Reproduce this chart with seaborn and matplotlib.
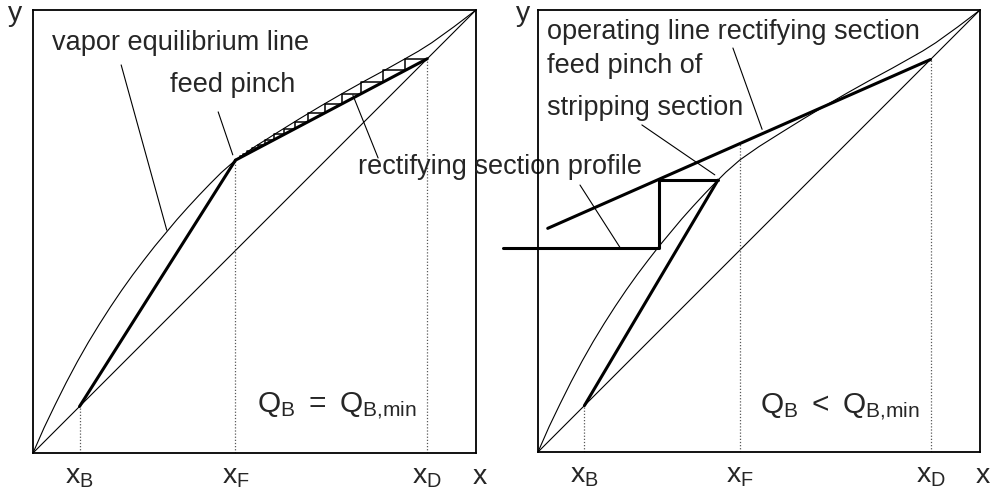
import numpy as np
import pandas as pd
import matplotlib
matplotlib.use("Agg")
import matplotlib.pyplot as plt
import seaborn as sns

# ---- vapour-liquid equilibrium curve (x = liquid, y = vapour mole fraction) ----
eq_x = [0.0, 0.025, 0.05, 0.075, 0.10, 0.125, 0.15, 0.175, 0.20, 0.225,
        0.25, 0.275, 0.30, 0.325, 0.35, 0.375, 0.40, 0.425, 0.457,
        0.50, 0.55, 0.60, 0.65, 0.70, 0.75, 0.80, 0.84, 0.87, 0.90, 0.95, 1.0]
eq_y = [0.0, 0.057, 0.109, 0.159, 0.206, 0.250, 0.291, 0.330, 0.367, 0.402,
        0.435, 0.467, 0.497, 0.527, 0.555, 0.582, 0.608, 0.633, 0.661,
        0.691, 0.7225, 0.7535, 0.7835, 0.8125, 0.8405, 0.8675, 0.890, 0.907,
        0.926, 0.962, 1.0]

# ---- key compositions ----
x_B = 0.105
x_F = 0.457
x_D = 0.89

# left diagram: minimum reboiler duty, pinch at the feed
pinch_left = (0.457, 0.661)
# rectifying stages (liquid compositions) and vapour levels, top down
stage_x = [0.840, 0.790, 0.740, 0.698, 0.659, 0.621, 0.591, 0.567,
           0.544, 0.524, 0.508, 0.494, 0.483, 0.474, 0.468]
stage_y = [0.890, 0.864, 0.837, 0.811, 0.788, 0.768, 0.748, 0.732,
           0.719, 0.707, 0.696, 0.688, 0.681, 0.675, 0.670, 0.667]

# right diagram: reboiler duty below the minimum
pinch_strip = (0.407, 0.615)
rect_line_x = [0.022, 0.888]
rect_line_y = [0.506, 0.888]
y_op_at_feed = 0.696
profile_x = [0.407, 0.274, 0.274, -0.079]
profile_y = [0.615, 0.615, 0.462, 0.462]

sns.set_style("white")
plt.rcParams["font.family"] = ["Liberation Sans", "DejaVu Sans"]
plt.rcParams["mathtext.fontset"] = "custom"
plt.rcParams["mathtext.rm"] = "Liberation Sans"
plt.rcParams["mathtext.it"] = "Liberation Sans:italic"
plt.rcParams["mathtext.bf"] = "Liberation Sans:bold"

TXT = "#262626"
FS = 19.5
THIN = 0.8
THICK = 2.2

fig = plt.figure(figsize=(9.95, 4.94), dpi=100)
ax1 = fig.add_axes([33 / 995, 41 / 494, 443 / 995, 443 / 494])
ax2 = fig.add_axes([538 / 995, 42 / 494, 442 / 995, 442 / 494])

eq = pd.DataFrame({"x": eq_x, "y": eq_y})


def base(ax, x_end):
    ax.set_facecolor("none")
    sns.lineplot(data=eq, x="x", y="y", ax=ax, color="black", lw=THIN,
                 sort=False, estimator=None)
    sns.lineplot(x=[0, 1], y=[0, 1], ax=ax, color="black", lw=THIN)
    ax.set_xlim(0, 1)
    ax.set_ylim(0, 1)
    ax.set_xticks([])
    ax.set_yticks([])
    ax.set_xlabel("")
    ax.set_ylabel("")
    for s in ax.spines.values():
        s.set_visible(True)
        s.set_color("black")
        s.set_linewidth(1.3)
    dot = dict(color="0.35", lw=0.9, ls=(0, (1, 1.5)))
    ax.plot([x_B, x_B], [0, x_B], **dot)
    ax.plot([x_D, x_D], [0, x_D], **dot)
    for xv, lab in [(x_B, r"$\mathrm{x_B}$"), (x_F, r"$\mathrm{x_F}$"), (x_D, r"$\mathrm{x_D}$")]:
        ax.text(xv, -0.055, lab, ha="center", va="center", fontsize=FS + 1,
                color=TXT, clip_on=False)
    ax.text(x_end, -0.055, "x", ha="center", va="center", fontsize=FS + 1,
            color=TXT, clip_on=False)


def leader(ax, p0, p1):
    ax.plot([p0[0], p1[0]], [p0[1], p1[1]], color="black", lw=THIN, clip_on=False)


# ---------------- left diagram ----------------
base(ax1, 1.009)
ax1.plot([x_F, x_F], [0, pinch_left[1]], color="0.35", lw=0.9, ls=(0, (1, 1.5)))
sns.lineplot(x=[x_B, pinch_left[0]], y=[x_B, pinch_left[1]], ax=ax1,
             color="black", lw=THICK)
sns.lineplot(x=[pinch_left[0], x_D], y=[pinch_left[1], x_D], ax=ax1,
             color="black", lw=THICK)

path_x, path_y = [x_D], [stage_y[0]]
for k, sx in enumerate(stage_x):
    path_x += [sx, sx]
    path_y += [stage_y[k], stage_y[k + 1]]
sns.lineplot(x=path_x, y=path_y, ax=ax1, color="black", lw=1.1,
             sort=False, estimator=None)

ax1.text(-0.04, 0.99, "y", ha="center", va="center", fontsize=FS + 1, color=TXT,
         clip_on=False)
ax1.text(0.043, 0.925, "vapor equilibrium line", ha="left", va="center",
         fontsize=FS, color=TXT)
leader(ax1, (0.199, 0.876), (0.302, 0.503))
ax1.text(0.309, 0.831, "feed pinch", ha="left", va="center", fontsize=FS, color=TXT)
leader(ax1, (0.418, 0.770), (0.451, 0.673))
ax1.text(0.734, 0.646, "rectifying section profile", ha="left", va="center",
         fontsize=FS, color=TXT, clip_on=False, zorder=5)
leader(ax1, (0.779, 0.666), (0.722, 0.808))
ax1.text(0.506, 0.104, r"$\mathrm{Q_B}\ =\ \mathrm{Q_{B{,}min}}$", ha="left",
         va="center", fontsize=FS + 2, color=TXT)

# ---------------- right diagram ----------------
base(ax2, 1.007)
ax2.plot([x_F, x_F], [0, y_op_at_feed], color="0.35", lw=0.9, ls=(0, (1, 1.5)))
sns.lineplot(x=[x_B, pinch_strip[0]], y=[x_B, pinch_strip[1]], ax=ax2,
             color="black", lw=THICK)
sns.lineplot(x=rect_line_x, y=rect_line_y, ax=ax2, color="black", lw=THICK)
sns.lineplot(x=profile_x, y=profile_y, ax=ax2, color="black", lw=THICK,
             sort=False, estimator=None, clip_on=False)

ax2.text(-0.034, 0.99, "y", ha="center", va="center", fontsize=FS + 1, color=TXT,
         clip_on=False)
ax2.text(0.020, 0.95, "operating line rectifying section", ha="left", va="center",
         fontsize=FS, color=TXT)
leader(ax2, (0.441, 0.914), (0.507, 0.730))
ax2.text(0.020, 0.873, "feed pinch of", ha="left", va="center", fontsize=FS, color=TXT)
ax2.text(0.020, 0.778, "stripping section", ha="left", va="center", fontsize=FS,
         color=TXT)
leader(ax2, (0.235, 0.740), (0.400, 0.627))
leader(ax2, (0.095, 0.604), (0.186, 0.462))
ax2.text(0.502, 0.100, r"$\mathrm{Q_B}\ <\ \mathrm{Q_{B{,}min}}$", ha="left",
         va="center", fontsize=FS + 2, color=TXT)

fig.savefig("out.png", dpi=100)
